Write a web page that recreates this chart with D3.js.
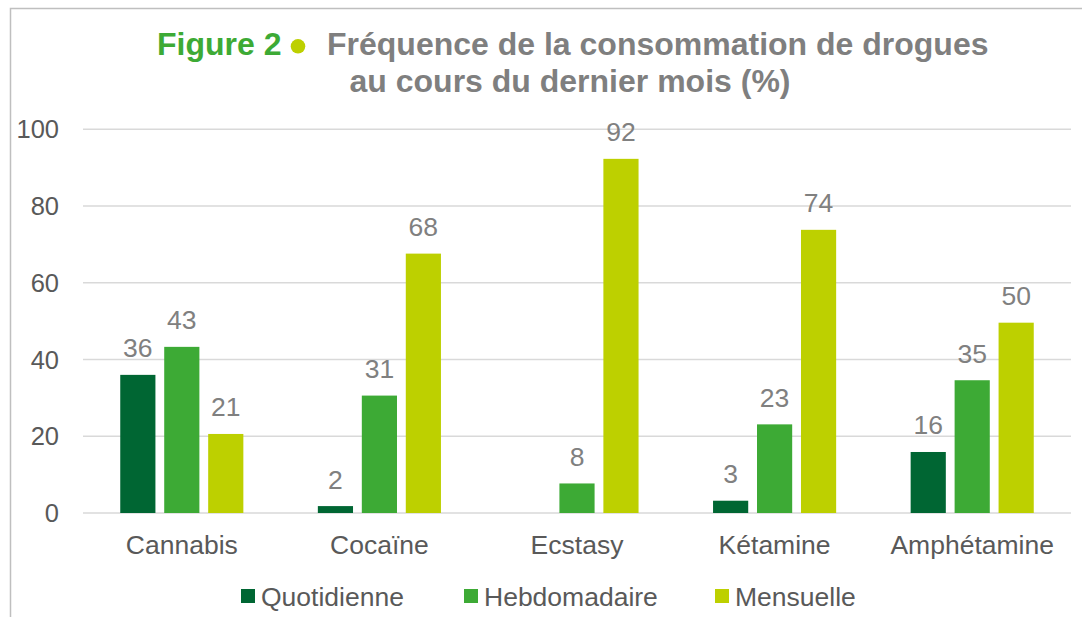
<!DOCTYPE html>
<html><head><meta charset="utf-8">
<script src="https://cdn.jsdelivr.net/npm/d3@7"></script>
<style>
html,body{margin:0;padding:0;background:#fff;}
svg{display:block;font-family:"Liberation Sans",Arial,sans-serif;}
</style></head>
<body><svg id="c" width="1082" height="617"></svg>
<script>
const categories = ["Cannabis","Cocaïne","Ecstasy","Kétamine","Amphétamine"];
const seriesNames = ["Quotidienne","Hebdomadaire","Mensuelle"];
const quotidienne = [36.0, 1.8, null, 3.2, 15.9];
const hebdomadaire = [43.3, 30.6, 7.7, 23.1, 34.6];
const mensuelle = [20.6, 67.6, 92.3, 73.8, 49.6];
const yTicks = [0,20,40,60,80,100];
const colors = ["#006633","#3DAA35","#BDD000"];

const seriesValues = [quotidienne, hebdomadaire, mensuelle];
const svg = d3.select("#c");

// frame
svg.append("path").attr("d","M10.5,617 V8.5 H1082").attr("fill","none").attr("stroke","#bfbfbf").attr("stroke-width",1.5);

const pLeft=83, pRight=1071, pTop=129.3, pBottom=513;
const x = d3.scaleBand().domain(categories).range([pLeft,pRight]);
const y = d3.scaleLinear().domain([0,100]).range([pBottom,pTop]);
const x1 = d3.scaleBand().domain(seriesNames).range([0, x.bandwidth()*0.623]).paddingInner(0.2);
const groupOffset = (x.bandwidth() - x.bandwidth()*0.623)/2;

// grid
svg.append("g").selectAll("line").data(yTicks).join("line")
  .attr("x1",pLeft).attr("x2",pRight).attr("y1",d=>y(d)).attr("y2",d=>y(d))
  .attr("stroke","#d9d9d9").attr("stroke-width",1.5);

// y tick labels
svg.append("g").selectAll("text").data(yTicks).join("text")
  .attr("x",59).attr("y",d=>y(d)+9).attr("text-anchor","end")
  .attr("font-size",25.5).attr("fill","#595959").text(d=>d);

// bars
const data = [];
categories.forEach((c,i)=>seriesNames.forEach((s,j)=>{
  const v = seriesValues[j][i];
  if (v!=null) data.push({c,s,v,j});
}));
const g = svg.append("g");
g.selectAll("rect").data(data).join("rect")
  .attr("x",d=>x(d.c)+groupOffset+x1(d.s))
  .attr("width",x1.bandwidth())
  .attr("y",d=>y(d.v)).attr("height",d=>y(0)-y(d.v))
  .attr("fill",d=>colors[d.j]);
g.selectAll("text").data(data).join("text")
  .attr("x",d=>x(d.c)+groupOffset+x1(d.s)+x1.bandwidth()/2)
  .attr("y",d=>y(d.v)-17.5).attr("text-anchor","middle")
  .attr("font-size",26.5).attr("fill","#808080").text(d=>Math.round(d.v));

// category labels
svg.append("g").selectAll("text").data(categories).join("text")
  .attr("x",d=>x(d)+x.bandwidth()/2).attr("y",554).attr("text-anchor","middle")
  .attr("font-size",26.5).attr("fill","#595959").text(d=>d);

// title
svg.append("text").attr("x",157).attr("y",55)
  .attr("font-size",32).attr("font-weight","bold").attr("fill","#3DAA35").text("Figure 2");
svg.append("circle").attr("cx",298).attr("cy",46.3).attr("r",7.3).attr("fill","#BDD000");
svg.append("text").attr("x",327).attr("y",55)
  .attr("font-size",32).attr("font-weight","bold").attr("fill","#7f7f7f")
  .text("Fréquence de la consommation de drogues");
svg.append("text").attr("x",570).attr("y",92).attr("text-anchor","middle")
  .attr("font-size",32).attr("font-weight","bold").attr("fill","#7f7f7f")
  .text("au cours du dernier mois (%)");

// legend
const legX = [241, 464, 715];
const leg = svg.append("g").selectAll("g").data(seriesNames).join("g")
  .attr("transform",(d,i)=>`translate(${legX[i]},589)`);
leg.append("rect").attr("width",14).attr("height",14).attr("fill",(d,i)=>colors[i]);
leg.append("text").attr("x",20).attr("y",16.5).attr("font-size",26.5).attr("fill","#595959").text(d=>d);
</script></body></html>
